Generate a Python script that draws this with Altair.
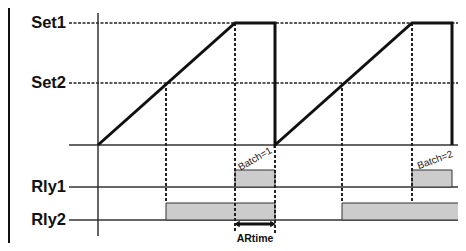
import altair as alt
import pandas as pd

# ---- data (time t, level L) ----
ramp_t = [0, 137, 177, 177, 314, 354, 354]
ramp_level = [0, 122, 122, 0, 122, 122, 0]

set_names = ["Set1", "Set2"]
set_levels = [122, 62]
relay_names = ["Rly1", "Rly2"]
relay_levels = [-42, -75]
base_level = 0
pulse_height = 17

line_start_t = -29
line_end_t = 363
label_t = -32

guide_t = [68, 137, 177, 244, 314]
guide_top = [62, 122, 0, 62, 122]
guide_bottom = [-58, -88, -88, -58, -58]

pulse_start = [137, 68, 314, 244]
pulse_end = [177, 177, 354, 361]
pulse_relay = [-42, -75, -42, -75]

batch_text = ["Batch=1", "Batch=2"]
batch_t = [157, 337]
batch_level = [-14, -15]
batch_angle = [330, 340]

artime_from = 139
artime_to = 175
artime_level = -79
artime_text_level = -97

axis_top = 132
axis_bottom = -91
border_t = -89
border_top = 137
border_bottom = -98

X = alt.Scale(domain=[-90, 360])
Y = alt.Scale(domain=[-98, 137])

def xe(f):
    return alt.X(f, type="quantitative", scale=X, axis=None)

def ye(f):
    return alt.Y(f, type="quantitative", scale=Y, axis=None)

ramp_df = pd.DataFrame({"t": ramp_t, "L": ramp_level, "o": list(range(len(ramp_t)))})
ramp = alt.Chart(ramp_df).mark_line(color="#111", strokeWidth=3, strokeJoin="miter").encode(
    x=xe("t"), y=ye("L"), order="o:Q")

set_df = pd.DataFrame({"name": set_names, "L": set_levels, "a": line_start_t, "b": line_end_t})
set_lines = alt.Chart(set_df).mark_rule(color="#222", strokeWidth=1.5, strokeDash=[3, 1.5]).encode(
    x=xe("a"), x2="b", y=ye("L"))

solid_df = pd.DataFrame({"L": [base_level] + relay_levels, "a": line_start_t, "b": line_end_t})
solid_lines = alt.Chart(solid_df).mark_rule(color="#333", strokeWidth=1.5).encode(
    x=xe("a"), x2="b", y=ye("L"))

label_df = pd.DataFrame({"name": set_names + relay_names, "L": set_levels + relay_levels, "lt": label_t})
labels = alt.Chart(label_df).mark_text(align="right", baseline="middle", font="Liberation Sans",
                                       fontWeight="bold", fontSize=16.5, color="#111").encode(
    x=xe("lt"), y=ye("L"), text="name:N")

guide_df = pd.DataFrame({"t": guide_t, "a": guide_top, "b": guide_bottom})
guides = alt.Chart(guide_df).mark_rule(color="#222", strokeWidth=2, strokeDash=[3, 2]).encode(
    x=xe("t"), y=ye("a"), y2="b")

pulse_df = pd.DataFrame({"a": pulse_start, "b": pulse_end, "lo": pulse_relay,
                         "hi": [v + pulse_height for v in pulse_relay]})
pulses = alt.Chart(pulse_df).mark_rect(fill="#cccccc", stroke="#333", strokeWidth=1).encode(
    x=xe("a"), x2="b", y=ye("lo"), y2="hi")

axis_df = pd.DataFrame({"t": [0], "a": [axis_top], "b": [axis_bottom]})
vaxis = alt.Chart(axis_df).mark_rule(color="#333", strokeWidth=1.5).encode(
    x=xe("t"), y=ye("a"), y2="b")

border_df = pd.DataFrame({"t": [border_t], "a": [border_top], "b": [border_bottom]})
border = alt.Chart(border_df).mark_rule(color="#111", strokeWidth=2).encode(
    x=xe("t"), y=ye("a"), y2="b")

batch_df = pd.DataFrame({"txt": batch_text, "t": batch_t, "L": batch_level, "ang": batch_angle})
batch_layers = []
for i in range(len(batch_text)):
    batch_layers.append(
        alt.Chart(batch_df.iloc[[i]]).mark_text(font="Liberation Sans", fontSize=10, color="#222",
                                                angle=batch_angle[i], align="center", baseline="middle").encode(
            x=xe("t"), y=ye("L"), text="txt:N"))

arrow_df = pd.DataFrame({"a": [artime_from], "b": [artime_to], "L": [artime_level]})
arrow_line = alt.Chart(arrow_df).mark_rule(color="#111", strokeWidth=3).encode(
    x=xe("a"), x2="b", y=ye("L"))
head_l = alt.Chart(arrow_df).mark_point(shape="triangle-left", filled=True, color="#111", size=40, opacity=1).encode(
    x=xe("a"), y=ye("L"))
head_r = alt.Chart(arrow_df).mark_point(shape="triangle-right", filled=True, color="#111", size=40, opacity=1).encode(
    x=xe("b"), y=ye("L"))
art_df = pd.DataFrame({"txt": ["ARtime"], "t": [(artime_from + artime_to) / 2], "L": [artime_text_level]})
art_text = alt.Chart(art_df).mark_text(font="Liberation Sans", fontWeight="bold", fontSize=10.5, color="#111",
                                       baseline="middle", dy=-3).encode(
    x=xe("t"), y=ye("L"), text="txt:N")

chart = alt.layer(
    border, set_lines, solid_lines, vaxis, pulses, guides, ramp, labels,
    *batch_layers, arrow_line, head_l, head_r, art_text
).properties(width=450, height=235, padding=0, autosize="none").configure_view(stroke=None)

chart.save("out.html", embed_options={"renderer": "svg", "actions": False})
